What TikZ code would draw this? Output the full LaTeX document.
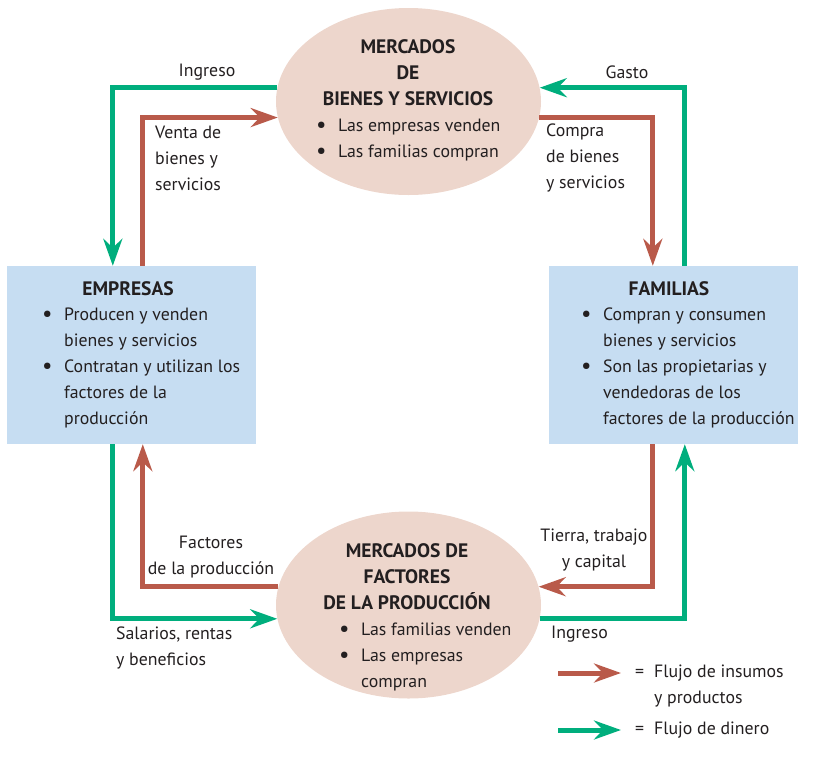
\documentclass[tikz,border=0pt]{standalone}
\usepackage{fontspec}
\setmainfont{PT Sans}
\usepackage{graphicx}
\usepackage{tikz}
\usetikzlibrary{shapes.geometric}
\usetikzlibrary{arrows.meta}

\definecolor{goodsred}{RGB}{185,90,74}
\definecolor{moneygreen}{RGB}{0,174,125}
\definecolor{marketfill}{RGB}{237,214,204}
\definecolor{agentfill}{RGB}{198,221,242}
\definecolor{txt}{RGB}{35,31,32}

\newcommand{\bul}{\makebox[22pt][l]{\raisebox{-1.4pt}{\scalebox{1.3}{\textbullet}}}}

\begin{document}
\begin{tikzpicture}[
            x = 1pt, y = -1pt, % one unit per pixel, y downwards
            > = {Stealth[length=27pt, width=19pt, inset=9pt]}, % arrow head style
            every node/.style = {text = txt, inner sep = 0pt,
                font = \fontsize{17.8}{26}\selectfont},
            market/.style = {ellipse, fill = marketfill,
                minimum width = 265pt, minimum height = 187pt},
            agent/.style = {rectangle, fill = agentfill,
                minimum width = 249pt, minimum height = 178pt},
            goods/.style = {->, draw = goodsred, line width = 5pt},
            money/.style = {->, draw = moneygreen, line width = 5pt},
            heading/.style = {align = center,
                font = \fontsize{19.5}{26}\selectfont\bfseries}
        ]
        \useasboundingbox (0,0) rectangle (823,756);

% markets
        \node[market] (bys) at (408.5,101.5) {};
        \node[market] (fac) at (408.5,605) {};
        \node[heading] (bysT) at (408,73) {MERCADOS\\DE\\BIENES Y SERVICIOS};
        \node[anchor=west] (bysL) at (316,139) {\begin{tabular}{@{}l@{}l@{}}
            \bul & Las empresas venden\\
            \bul & Las familias compran\end{tabular}};
        \node[heading] (facT) at (407,577) {MERCADOS DE\\FACTORES\\DE LA PRODUCCIÓN};
        \node[anchor=west] (facL) at (339,656) {\begin{tabular}{@{}l@{}l@{}}
            \bul & Las familias venden\\
            \bul & Las empresas\\
                 & compran\end{tabular}};

% agents
        \node[agent] (emp) at (131,355) {};
        \node[agent] (fam) at (673,355) {};
        \node[heading] (empT) at (128,289) {EMPRESAS};
        \node[anchor=west] (empL) at (42,367) {\begin{tabular}{@{}l@{}l@{}}
            \bul & Producen y venden\\
                 & bienes y servicios\\
            \bul & Contratan y utilizan los\\
                 & factores de la\\
                 & producción\end{tabular}};
        \node[heading] (famT) at (669,289) {FAMILIAS};
        \node[anchor=west] (famL) at (581,367) {\begin{tabular}{@{}l@{}l@{}}
            \bul & Compran y consumen\\
                 & bienes y servicios\\
            \bul & Son las propietarias y\\
                 & vendedoras de los\\
                 & factores de la producción\end{tabular}};

% flows round the market for goods
        \draw[money] (bys.174) -| ([xshift=106.5]emp.north west);
        \draw[goods] ([xshift=136.5]emp.north west) |- (bys.187);
        \draw[goods] (bys.-7) -| ([xshift=104.5]fam.north west);
        \draw[money] ([xshift=136.5]fam.north west) |- (bys.6);

% flows round the market for factors
        \draw[goods] (fac.172) -| ([xshift=136.5]emp.south west);
        \draw[money] ([xshift=106.5]emp.south west) |- (fac.186);
        \draw[goods] ([xshift=104.5]fam.south west) |- (fac.8);
        \draw[money] (fac.-6) -| ([xshift=136.5]fam.south west);

% flow labels
        \node (ingA) at (207,72) {Ingreso};
        \node (gasto) at (627,72) {Gasto};
        \node[anchor=west, align=left] (venta) at (155,158) {Venta de\\bienes y\\servicios};
        \node[anchor=west, align=left] (compra) at (546,158) {Compra\\de bienes\\y servicios};
        \node[align=center] (factores) at (211,557) {Factores\\de la producción};
        \node[anchor=west, align=left] (salarios) at (116,648) {Salarios, rentas\\y beneficios};
        \node[align=center] (tierra) at (594,550) {Tierra, trabajo\\y capital};
        \node[anchor=west] (ingB) at (551,634) {Ingreso};

% legend
        \coordinate (redA) at (558,673);
        \coordinate (redB) at (621,673);
        \coordinate (grnA) at (558,730);
        \coordinate (grnB) at (621,730);
        \draw[goods] (redA) -- (redB);
        \draw[money] (grnA) -- (grnB);
        \node[anchor=west] (redT) at (635,685.5) {\begin{tabular}{@{}l@{\hspace{10pt}}l@{}}
            = & Flujo de insumos\\
              & y productos\end{tabular}};
        \node[anchor=west] (grnT) at (635,729.5) {\begin{tabular}{@{}l@{\hspace{10pt}}l@{}}
            = & Flujo de dinero\end{tabular}};

  \end{tikzpicture}
\end{document}
